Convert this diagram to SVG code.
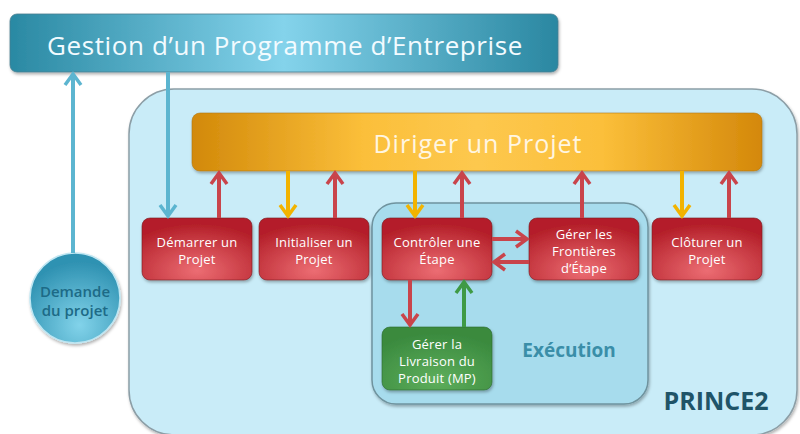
<svg xmlns="http://www.w3.org/2000/svg" width="800" height="434" viewBox="0 0 800 434">
<style>
.box{stroke:#7a1a20;stroke-width:0.6}
.lbl{font-family:"Open Sans","Noto Sans",sans-serif;font-size:13px;fill:#ffffff;text-anchor:middle;letter-spacing:0.2px}
.ar{fill:none;stroke-width:4}
.red{stroke:#c9444b}
.yel{stroke:#f2b300}
.blu{stroke:#5cb5d0}
.grn{stroke:#3f9a45}
</style>
<defs>
<linearGradient id="gTop" x1="0" y1="0" x2="1" y2="0">
<stop offset="0" stop-color="#2a89a3"/>
<stop offset="0.5" stop-color="#84d3eb"/>
<stop offset="1" stop-color="#2a87a1"/>
</linearGradient>
<linearGradient id="gOr" x1="0" y1="0" x2="1" y2="0">
<stop offset="0" stop-color="#d2890a"/>
<stop offset="0.3" stop-color="#fbbf3a"/>
<stop offset="0.5" stop-color="#fdc84e"/>
<stop offset="0.72" stop-color="#fbbf3a"/>
<stop offset="1" stop-color="#d4880a"/>
</linearGradient>
<radialGradient id="gRed" cx="0.5" cy="0.85" r="0.75">
<stop offset="0" stop-color="#ec6d73"/>
<stop offset="1" stop-color="#b41f29"/>
</radialGradient>
<radialGradient id="gGrn" cx="0.5" cy="0.85" r="0.75">
<stop offset="0" stop-color="#5eae5c"/>
<stop offset="1" stop-color="#3a8a3e"/>
</radialGradient>
<radialGradient id="gCir" cx="0.55" cy="0.8" r="0.7">
<stop offset="0" stop-color="#82d3ea"/>
<stop offset="1" stop-color="#2f92b2"/>
</radialGradient>
<filter id="sh" x="-10%" y="-10%" width="120%" height="130%">
<feDropShadow dx="1" dy="2" stdDeviation="1.5" flood-color="#000" flood-opacity="0.3"/>
</filter>
<marker id="mRed" markerUnits="userSpaceOnUse" markerWidth="20" markerHeight="20" viewBox="0 0 20 20" refX="15" refY="10" orient="auto">
<path d="M4,2 L15,10 L4,18" fill="none" stroke="#c9444b" stroke-width="3.5"/>
</marker>
<marker id="mYel" markerUnits="userSpaceOnUse" markerWidth="20" markerHeight="20" viewBox="0 0 20 20" refX="15" refY="10" orient="auto">
<path d="M4,2 L15,10 L4,18" fill="none" stroke="#f2b300" stroke-width="3.5"/>
</marker>
<marker id="mBlu" markerUnits="userSpaceOnUse" markerWidth="20" markerHeight="20" viewBox="0 0 20 20" refX="15" refY="10" orient="auto">
<path d="M4,2 L15,10 L4,18" fill="none" stroke="#5cb5d0" stroke-width="3.5"/>
</marker>
<marker id="mGrn" markerUnits="userSpaceOnUse" markerWidth="20" markerHeight="20" viewBox="0 0 20 20" refX="15" refY="10" orient="auto">
<path d="M4,2 L15,10 L4,18" fill="none" stroke="#3f9a45" stroke-width="3.5"/>
</marker>
</defs>
<rect width="800" height="434" fill="#ffffff"/>

<g id="prince2">
<rect x="129" y="89" width="668" height="346" rx="45" fill="#c9ecf8" stroke="#8c9ea6" stroke-width="1.5" filter="url(#sh)"/>
<text x="716" y="410" font-family="'Open Sans','Noto Sans',sans-serif" font-size="25" font-weight="bold" fill="#1f5468" text-anchor="middle">PRINCE2</text>
</g>

<g id="execution">
<rect x="372" y="203" width="276" height="201" rx="24" fill="#a7dced" stroke="#6f939e" stroke-width="1.5" filter="url(#sh)"/>
<text x="569" y="357" font-family="'Open Sans','Noto Sans',sans-serif" font-size="19" font-weight="bold" fill="#3a8ea8" text-anchor="middle">Exécution</text>
</g>

<g id="gestion">
<rect x="10" y="14" width="548" height="58" rx="7" fill="url(#gTop)" stroke="#4a7f90" stroke-width="0.8" filter="url(#sh)"/>
<text x="285" y="55" font-family="'Open Sans','Noto Sans',sans-serif" font-size="26" letter-spacing="0.6" fill="#f2fbff" text-anchor="middle">Gestion d’un Programme d’Entreprise</text>
</g>

<g id="dirigir">
<rect x="192" y="113" width="570" height="58" rx="8" fill="url(#gOr)" stroke="#b07a1a" stroke-width="0.6" filter="url(#sh)"/>
<text x="478" y="153" font-family="'Open Sans','Noto Sans',sans-serif" font-size="25" letter-spacing="1" fill="#fff6e2" text-anchor="middle">Diriger un Projet</text>
</g>

<g id="demande">
<circle cx="75" cy="298" r="45" fill="url(#gCir)" stroke="#bfe6f2" stroke-width="1.5" filter="url(#sh)"/>
<text x="75" y="297" font-family="'Open Sans','Noto Sans',sans-serif" font-size="15" font-weight="600" fill="#1d6a86" text-anchor="middle">Demande</text>
<text x="75" y="316" font-family="'Open Sans','Noto Sans',sans-serif" font-size="15" font-weight="600" fill="#1d6a86" text-anchor="middle">du projet</text>
</g>

<g id="demarrer">
<rect class="box" x="142" y="218" width="110" height="62" rx="8" fill="url(#gRed)" filter="url(#sh)"/>
<text class="lbl" x="197" y="247">Démarrer un</text>
<text class="lbl" x="197" y="264">Projet</text>
</g>

<g id="initialiser">
<rect class="box" x="259" y="218" width="110" height="62" rx="8" fill="url(#gRed)" filter="url(#sh)"/>
<text class="lbl" x="314" y="247">Initialiser un</text>
<text class="lbl" x="314" y="264">Projet</text>
</g>

<g id="controler">
<rect class="box" x="382" y="218" width="110" height="62" rx="8" fill="url(#gRed)" filter="url(#sh)"/>
<text class="lbl" x="437" y="247">Contrôler une</text>
<text class="lbl" x="437" y="264">Étape</text>
</g>

<g id="frontieres">
<rect class="box" x="529" y="218" width="110" height="62" rx="8" fill="url(#gRed)" filter="url(#sh)"/>
<text class="lbl" x="584" y="239">Gérer les</text>
<text class="lbl" x="584" y="256">Frontières</text>
<text class="lbl" x="584" y="273">d’Étape</text>
</g>

<g id="cloturer">
<rect class="box" x="652" y="218" width="110" height="62" rx="8" fill="url(#gRed)" filter="url(#sh)"/>
<text class="lbl" x="707" y="247">Clôturer un</text>
<text class="lbl" x="707" y="264">Projet</text>
</g>

<g id="livraison">
<rect x="382" y="327" width="110" height="63" rx="8" fill="url(#gGrn)" stroke="#2c6a30" stroke-width="0.6" filter="url(#sh)"/>
<text class="lbl" x="437" y="349">Gérer la</text>
<text class="lbl" x="437" y="366">Livraison du</text>
<text class="lbl" x="437" y="383">Produit (MP)</text>
</g>

<g id="connectors">
<line class="ar blu" x1="73" y1="253" x2="73" y2="74" marker-end="url(#mBlu)"/>
<line class="ar blu" x1="168" y1="72" x2="168" y2="216" marker-end="url(#mBlu)"/>
<line class="ar red" x1="219" y1="218" x2="219" y2="173" marker-end="url(#mRed)"/>
<line class="ar yel" x1="288" y1="171" x2="288" y2="216" marker-end="url(#mYel)"/>
<line class="ar red" x1="335" y1="218" x2="335" y2="173" marker-end="url(#mRed)"/>
<line class="ar yel" x1="415" y1="171" x2="415" y2="216" marker-end="url(#mYel)"/>
<line class="ar red" x1="462" y1="218" x2="462" y2="173" marker-end="url(#mRed)"/>
<line class="ar red" x1="582" y1="218" x2="582" y2="173" marker-end="url(#mRed)"/>
<line class="ar yel" x1="682" y1="171" x2="682" y2="216" marker-end="url(#mYel)"/>
<line class="ar red" x1="729" y1="218" x2="729" y2="173" marker-end="url(#mRed)"/>
<line class="ar red" x1="492" y1="239" x2="527" y2="239" marker-end="url(#mRed)"/>
<line class="ar red" x1="529" y1="262" x2="494" y2="262" marker-end="url(#mRed)"/>
<line class="ar red" x1="410" y1="280" x2="410" y2="325" marker-end="url(#mRed)"/>
<line class="ar grn" x1="464" y1="327" x2="464" y2="282" marker-end="url(#mGrn)"/>
</g>
</svg>
